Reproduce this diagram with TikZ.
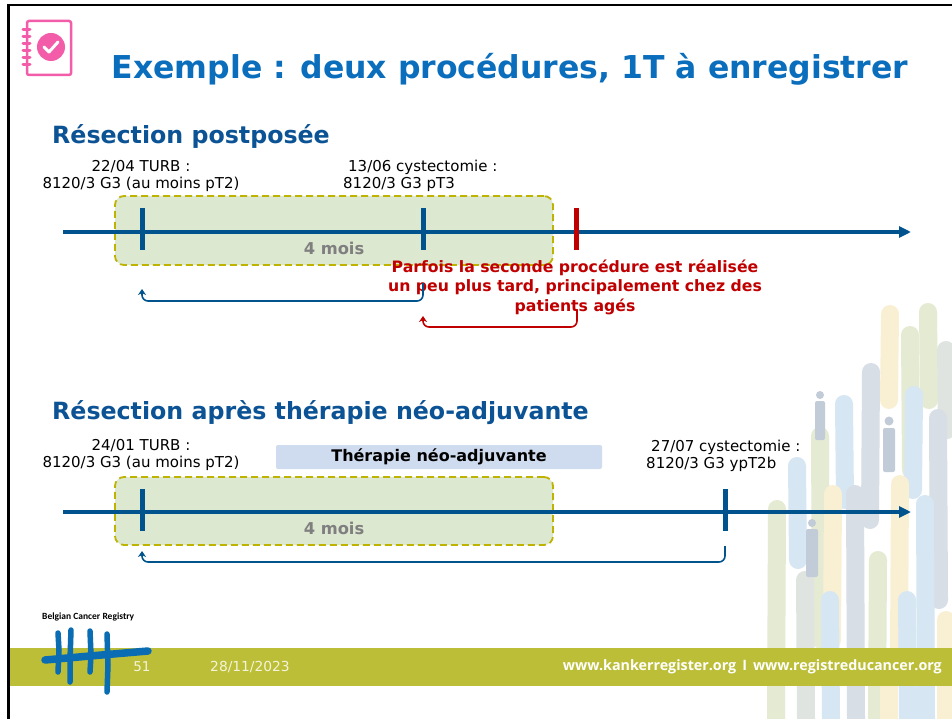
\documentclass[tikz,border=0pt]{standalone}
\usepackage{fontspec}
\setmainfont{DejaVu Sans}
\newfontfamily\footfont{Open Sans}
\newfontfamily\logofont{Carlito}
\usetikzlibrary{arrows.meta}

\definecolor{titleblue}{HTML}{0A6EBD}
\definecolor{headblue}{HTML}{0B5394}
\definecolor{lineblue}{HTML}{00538C}
\definecolor{alertred}{HTML}{C00000}
\definecolor{greenfill}{HTML}{DCE8D0}
\definecolor{dashol}{HTML}{BDB300}
\definecolor{graytxt}{HTML}{7F7F7F}
\definecolor{therapyfill}{HTML}{CFDBEE}
\definecolor{bandol}{HTML}{BBBE36}
\definecolor{bandtxt}{HTML}{F4F4DC}
\definecolor{iconpink}{HTML}{F25CA8}
\definecolor{logoblue}{HTML}{0A6CB2}
% pale brush colours of the decoration
\definecolor{dlblue}{HTML}{D6E6F2}
\definecolor{dgblue}{HTML}{D7DEE6}
\definecolor{dyel}{HTML}{F9F0D4}
\definecolor{dgreen}{HTML}{E5EAD3}
\definecolor{dgray}{HTML}{DFE4E1}
\definecolor{dfig}{HTML}{C2CCD8}

\begin{document}
\begin{tikzpicture}[x=1pt,y=-1pt,
  titletxt/.style={font=\fontsize{31.5}{36}\selectfont\bfseries, text=titleblue, inner sep=0},
  headtxt/.style={font=\fontsize{23.7}{28}\selectfont\bfseries, text=headblue, inner sep=0, anchor=west},
  lbl/.style={font=\fontsize{15}{17}\selectfont, inner sep=0},
  months/.style={font=\fontsize{16.3}{19}\selectfont\bfseries, text=graytxt, inner sep=0},
  note/.style={font=\fontsize{15.7}{19.5}\selectfont\bfseries, text=alertred, align=center, inner sep=0},
  period/.style={draw=dashol, fill=greenfill, dash pattern=on 7pt off 4pt, line width=1.8pt, rounded corners=9pt},
  axis/.style={draw=lineblue, line width=3.5pt, -{Triangle[length=12pt,width=11pt]}},
  tickmark/.style={fill=#1, minimum width=5pt, minimum height=42pt, inner sep=0, draw=none},
  loopback/.style={draw=#1, line width=1.6pt, rounded corners=6pt, -{Stealth[length=6pt,width=8pt]}},
  brush/.style={line width=18pt, line cap=round, draw=#1},
  figure/.style={fill=dfig, draw=none}]

\useasboundingbox (0,0) rectangle (952,719);
\fill[white] (0,0) rectangle (952,719);

% ---- decorative brush strokes on the right ----
\begin{scope}
\clip (700,300) rectangle (952,719);
\draw[brush=dyel]   (890,314) -- (889,400);
\draw[brush=dgreen] (928,312) -- (929,400);
\draw[brush=dgreen] (910,335) -- (911,470);
\draw[brush=dgray]  (946,350) -- (947,430);
\draw[brush=dgblue] (871,372) -- (870,520);
\draw[brush=dlblue] (844,404) -- (845,500);
\draw[brush=dlblue] (914,395) -- (913,490);
\draw[brush=dgblue] (938,418) -- (939,600);
\draw[brush=dgreen] (820,436) -- (821,640);
\draw[brush=dlblue] (797,466) -- (798,560);
\draw[brush=dyel]   (833,494) -- (832,640);
\draw[brush=dgblue] (855,494) -- (856,719);
\draw[brush=dgreen] (777,509) -- (776,719);
\draw[brush=dyel]   (900,484) -- (899,650);
\draw[brush=dlblue] (925,504) -- (926,719);
\draw[brush=dgray]  (805,580) -- (806,719);
\draw[brush=dlblue] (830,600) -- (831,719);
\draw[brush=dgreen] (878,560) -- (877,719);
\draw[brush=dyel]   (889,660) -- (889,719);
\draw[brush=dlblue] (907,600) -- (908,719);
\draw[brush=dyel]   (946,620) -- (946,719);
% small standing figures
\fill[figure] (820,395) circle (4);
\fill[figure, rounded corners=2pt] (815,401) rectangle (825,440);
\fill[figure] (889,421) circle (4.5);
\fill[figure, rounded corners=2pt] (883,428) rectangle (895,472);
\fill[figure] (812,523) circle (4);
\fill[figure, rounded corners=2pt] (806,529) rectangle (818,577);
\end{scope}

% ---- slide frame ----
\draw[black, line width=2.5pt] (8,5) -- (952,5);
\draw[black, line width=3pt] (8,4) -- (8,719);

% ---- notebook icon ----
\draw[iconpink, line width=2.5pt, rounded corners=2pt] (27,21) rectangle (71,75);
\foreach \yy in {30,37,44,51,58,65} {
  \draw[iconpink, line width=3pt, line cap=round] (23,\yy) -- (30,\yy);
}
\fill[iconpink] (51,47) circle (14);
\draw[white, line width=3pt, line cap=round, line join=round] (44,47) -- (49,52) -- (58,42);

% ---- title ----
\node[titletxt] (title) at (510,69) {Exemple : deux procédures, 1T à enregistrer};

% ==== first timeline ====
\node[headtxt] (head1) at (52,136) {Résection postposée};

\node[period, minimum width=438pt, minimum height=69pt] (box1) at (334,230.5) {};
\coordinate (L1s) at (63,232);
\coordinate (L1e) at (911,232);
\draw[axis] (L1s) -- (L1e);

\node[tickmark=lineblue] (t1a) at (142,229) {};
\node[tickmark=lineblue] (t1b) at (423,229) {};
\node[tickmark=alertred] (t1c) at (576,229) {};

\node[lbl, align=center] (lab1a) at (141,175.5) {22/04 TURB :\\8120/3 G3 (au moins pT2)};
\node[lbl, align=left, anchor=north west] (lab1b) at (343,160) {\hspace*{5pt}13/06 cystectomie :\\8120/3 G3 pT3};
\node[months] (m1) at (334,248) {4 mois};

\node[note] (alert) at (575,287) {Parfois la seconde procédure est réalisée\\un peu plus tard, principalement chez des\\patients agés};

\coordinate (r1s) at (423,283);
\coordinate (r1e) at (142,289);
\draw[loopback=lineblue] (r1s) -- (r1s |- 0,301) -- (r1e |- 0,301) -- (r1e);

\coordinate (r2s) at (577,310);
\coordinate (r2e) at (423,316);
\draw[loopback=alertred] (r2s) -- (r2s |- 0,327) -- (r2e |- 0,327) -- (r2e);

% ==== second timeline ====
\node[headtxt] (head2) at (52,413) {Résection après thérapie néo-adjuvante};

\node[fill=therapyfill, rounded corners=2pt, minimum width=326pt, minimum height=24pt, inner sep=0,
      font=\fontsize{16}{19}\selectfont\bfseries] (neo) at (439,457) {Thérapie néo-adjuvante};

\node[period, minimum width=438pt, minimum height=68pt] (box2) at (334,511) {};
\coordinate (L2s) at (63,512);
\coordinate (L2e) at (911,512);
\draw[axis] (L2s) -- (L2e);

\node[tickmark=lineblue] (t2a) at (142,510) {};
\node[tickmark=lineblue] (t2b) at (725,510) {};

\node[lbl, align=center] (lab2a) at (141,454.5) {24/01 TURB :\\8120/3 G3 (au moins pT2)};
\node[lbl, align=left, anchor=north west] (lab2b) at (646,440) {\hspace*{5pt}27/07 cystectomie :\\8120/3 G3 ypT2b};
\node[months] (m2) at (334,528) {4 mois};

\coordinate (r3s) at (725,546);
\coordinate (r3e) at (142,551);
\draw[loopback=lineblue] (r3s) -- (r3s |- 0,562) -- (r3e |- 0,562) -- (r3e);

% ---- footer ----
\fill[bandol] (9.5,648) rectangle (952,686);
\node[anchor=west, inner sep=0, font=\logofont\bfseries\fontsize{9.5}{11}\selectfont] (logotxt) at (42,617) {Belgian Cancer Registry};
\begin{scope}[draw=logoblue, line cap=round]
\draw[line width=5.5pt] (58,633) -- (59,650) -- (58,672);
\draw[line width=5.5pt] (71,630) -- (70,660) -- (70,682);
\draw[line width=5.5pt] (90,631) -- (91,655) -- (90,672);
\draw[line width=5.5pt] (107,634) -- (108,665) -- (107,692);
\draw[line width=7.5pt] (45,660) -- (90,656) -- (148,651);
\end{scope}
\node[text=bandtxt, inner sep=0, font=\fontsize{13.5}{15}\selectfont] (pagenum) at (142,667) {51};
\node[text=bandtxt, inner sep=0, font=\fontsize{13.8}{15}\selectfont] (date) at (250,667) {28/11/2023};
\node[anchor=east, text=white, inner sep=0, font=\footfont\bfseries\fontsize{14.3}{17}\selectfont] (urls) at (942,667) {www.kankerregister.org\hspace{6pt}I\hspace{6pt}www.registreducancer.org};
\end{tikzpicture}
\end{document}
